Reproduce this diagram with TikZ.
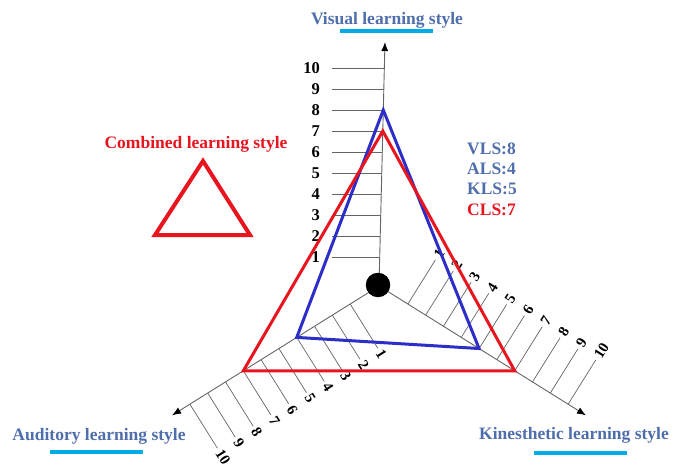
\documentclass[tikz,border=0pt]{standalone}
\usepackage{fontspec}
\setmainfont{Liberation Serif}
\usetikzlibrary{calc,arrows.meta}
\definecolor{titleblue}{RGB}{79,110,172}
\definecolor{barblue}{RGB}{0,172,232}
\definecolor{lineblue}{RGB}{45,45,200}
\definecolor{linered}{RGB}{232,20,30}
\definecolor{axisgray}{RGB}{100,100,100}
\begin{document}
\begin{tikzpicture}[x=1pt,y=-1pt,
  axis/.style={draw=axisgray, line width=0.9pt, -{Latex[length=9pt,width=7pt,color=black]}},
  tickline/.style={draw=axisgray, line width=0.7pt},
  title/.style={font=\fontsize{17.5}{20}\selectfont\bfseries, text=titleblue, inner sep=0pt, anchor=base},
  bar/.style={draw=barblue, line width=4pt},
  vnum/.style={font=\fontsize{16.5}{18}\selectfont\bfseries, inner sep=0pt, anchor=east},
  rnum/.style={font=\fontsize{15}{17}\selectfont\bfseries, inner sep=0pt, anchor=west},
  score/.style={font=\fontsize{17.5}{20}\selectfont\bfseries, inner sep=0pt, anchor=base west},
  tri/.style={line width=3pt, line join=miter},
]
\useasboundingbox (0,0) rectangle (677,465);
\coordinate (C) at (379,286);
\coordinate (L) at (332,0);
% axes
\coordinate (Vend) at ($(C)+(-88.6:244)$);
\coordinate (Kend) at ($(C)+(32:244)$);
\coordinate (Aend) at ($(C)+(148:244)$);
\draw[axis] (C) -- (Vend);
\draw[axis] (C) -- (Kend);
\draw[axis] (C) -- (Aend);
% ticks and numbers
\foreach \k in {1,...,10}{
  \coordinate (v\k) at ($(C)+(-88.6:{8+21*\k})$);
  \draw[tickline] (v\k) -- (v\k -| L);
  \node[vnum] (vl\k) at ($(v\k -| L)+(-12,0)$) {\k};
  \coordinate (k\k) at ($(C)+(32:{13+21*\k})$);
  \draw[tickline] (k\k) -- ($(k\k)+(-58:52)$);
  \node[rnum, rotate=58] (kl\k) at ($(k\k)+(-58:55)$) {\k};
  \coordinate (a\k) at ($(C)+(148:{13+21*\k})$);
  \draw[tickline] (a\k) -- ($(a\k)+(58:52)$);
  \node[rnum, rotate=-58] (al\k) at ($(a\k)+(58:55)$) {\k};
}
% centre dot
\node[circle, fill=black, minimum size=24.5pt, inner sep=0pt] (dot) at (378,285) {};
% triangles
\coordinate (bV) at ($(C)+(-88.6:176)$);
\coordinate (bK) at ($(C)+(32:118)$);
\coordinate (bA) at ($(C)+(148:97)$);
\coordinate (rV) at ($(C)+(-88.6:155)$);
\coordinate (rK) at ($(C)+(32:160)$);
\coordinate (rA) at ($(C)+(148:160)$);
\draw[tri, lineblue] (bV) -- (bK) -- (bA) -- cycle;
\draw[tri, linered] (rV) -- (rK) -- (rA) -- cycle;
% titles
\node[title] (tv) at (387,25) {Visual learning style};
\draw[bar] (340,31) -- (433,31);
\node[title] (ta) at (99,440) {Auditory learning style};
\draw[bar] (50,452) -- (143,452);
\node[title] (tk) at (574,439) {Kinesthetic learning style};
\draw[bar] (534,453) -- (627,453);
% legend
\node[title, text=linered] (tc) at (196,149) {Combined learning style};
\coordinate (lt1) at (203,161);
\coordinate (lt2) at (155,235);
\coordinate (lt3) at (250,235);
\draw[linered, line width=4pt, line join=miter] (lt1) -- (lt2) -- (lt3) -- cycle;
% scores
\node[score, text=titleblue] (s1) at (467,155) {VLS:8};
\node[score, text=titleblue] (s2) at (467,175) {ALS:4};
\node[score, text=titleblue] (s3) at (467,195) {KLS:5};
\node[score, text=linered] (s4) at (467,215) {CLS:7};
\end{tikzpicture}
\end{document}
